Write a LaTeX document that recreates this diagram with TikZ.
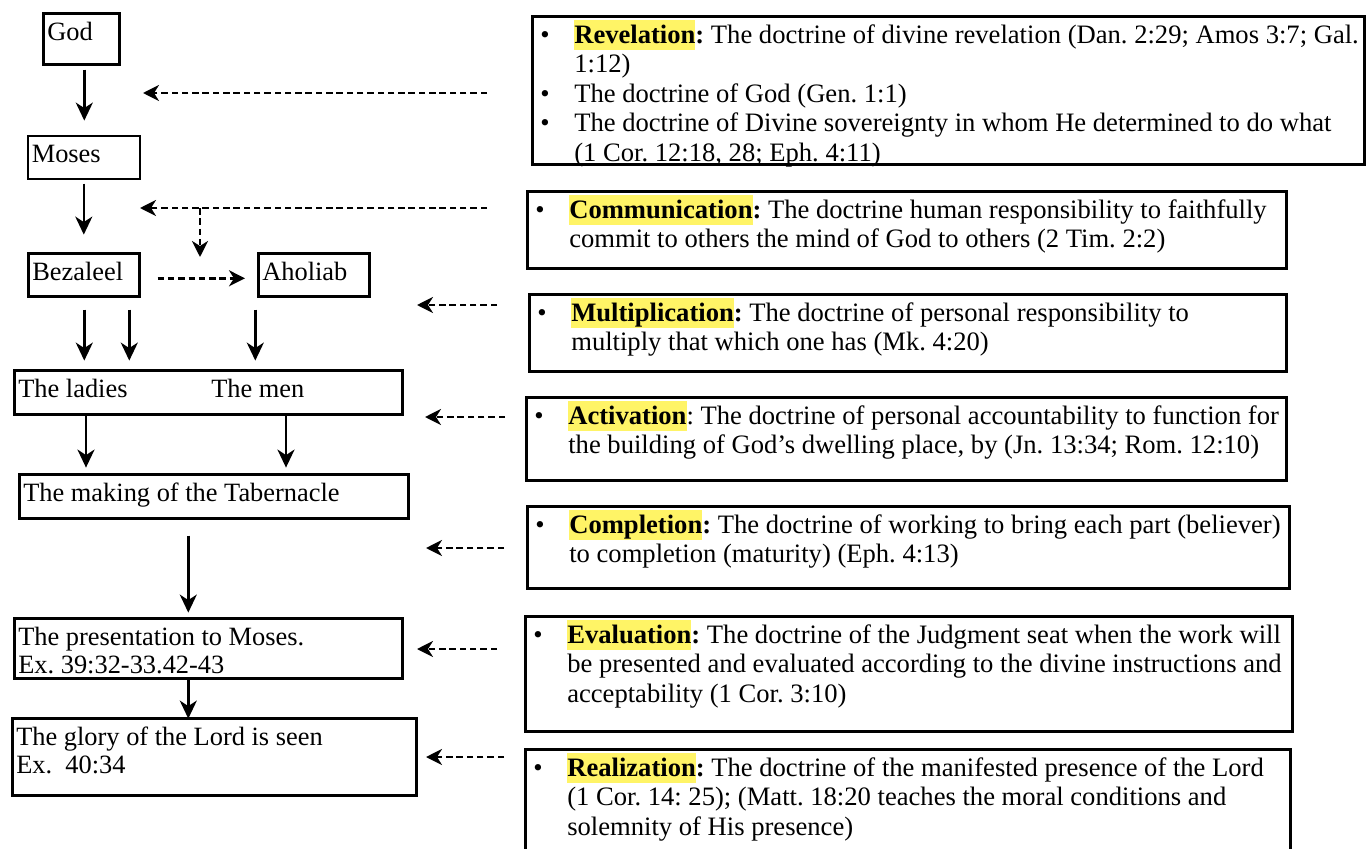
\documentclass[tikz,border=0pt]{standalone}
\usepackage{fontspec}
\setmainfont{Liberation Serif}
\usetikzlibrary{arrows.meta}
\definecolor{hly}{HTML}{FFF466}
\frenchspacing
\newcommand\hlw[1]{{\setlength{\fboxsep}{0pt}\colorbox{hly}{\rule[-7pt]{0pt}{30pt}\textbf{#1}}}}
\newcommand\bul{\makebox[34pt][l]{\textbullet}}
\newcommand\ind{\hspace*{34pt}}
\newcommand\boxtext[4]{\makebox[#1pt][l]{\parbox[t][#2pt][t]{1500pt}{\frenchspacing\leftskip=#3pt\parindent=0pt\rightskip=0pt plus 1fil\rule{0pt}{27pt}#4}}}
\tikzset{
  box/.style={draw, line width=2.6pt, inner sep=0pt, anchor=north west},
  lfont/.style={font=\fontsize{26.4}{28.5}\selectfont},
  rfont/.style={font=\fontsize{26.6}{29.5}\selectfont},
  arr/.style={line width=2.6pt, -{Stealth[length=18pt,width=17pt,inset=5.5pt]}},
  darr/.style={line width=2.6pt, dash pattern=on 6.5pt off 3.8pt, -{Stealth[length=16pt,width=16pt,inset=5pt]}}
}
\begin{document}
\begin{tikzpicture}[x=1pt,y=-1pt]
\useasboundingbox (0,0) rectangle (1372,848);
% left column
\node[box,lfont] (god) at (42,12) {\boxtext{76}{51}{4}{God}};
\node[box,lfont,line width=1.6pt] (moses) at (27,135) {\boxtext{112}{43}{4}{Moses}};
\node[box,lfont] (bez) at (27,252) {\boxtext{111}{43}{4}{Bezaleel}};
\node[box,lfont] (aho) at (257,252) {\boxtext{111}{43}{4}{Aholiab}};
\node[box,lfont] (ladies) at (13,369) {\boxtext{388}{44}{4}{\makebox[193pt][l]{The ladies}The men}};
\node[box,lfont] (tab) at (18,473) {\boxtext{389}{44}{4}{The making of the Tabernacle}};
\node[box,lfont] (pres) at (13,617) {\boxtext{388}{60}{4}{The presentation to Moses.\\Ex. 39:32-33.42-43}};
\node[box,lfont] (glory) at (11,717) {\boxtext{404}{77}{4}{The glory of the Lord is seen\\Ex.\ \ 40:34}};
% right column
\node[box,rfont] (rev) at (531,15) {\boxtext{832}{148}{8}{\bul\hlw{Revelation}\textbf{:} The doctrine of divine revelation (Dan. 2:29; Amos 3:7; Gal.\\
\ind 1:12)\\
\bul The doctrine of God (Gen. 1:1)\\
\bul The doctrine of Divine sovereignty in whom He determined to do what\\
\ind (1 Cor. 12:18, 28; Eph. 4:11)}};
\node[box,rfont] (comm) at (526,190) {\boxtext{759}{77}{8}{\bul\hlw{Communication}\textbf{:} The doctrine human responsibility to faithfully\\
\ind commit to others the mind of God to others (2 Tim. 2:2)}};
\node[box,rfont] (mult) at (528,293) {\boxtext{757}{77}{8}{\bul\hlw{Multiplication}\textbf{:} The doctrine of personal responsibility to\\
\ind multiply that which one has (Mk. 4:20)}};
\node[box,rfont] (act) at (525,396) {\boxtext{760}{83}{8}{\bul\hlw{Activation}: The doctrine of personal accountability to function for\\
\ind the building of God’s dwelling place, by (Jn. 13:34; Rom. 12:10)}};
\node[box,rfont] (comp) at (526,505) {\boxtext{762}{82}{8}{\bul\hlw{Completion}\textbf{:} The doctrine of working to bring each part (believer)\\
\ind to completion (maturity) (Eph. 4:13)}};
\node[box,rfont] (eval) at (524,615) {\boxtext{767}{115}{8}{\bul\hlw{Evaluation}\textbf{:} The doctrine of the Judgment seat when the work will\\
\ind be presented and evaluated according to the divine instructions and\\
\ind acceptability (1 Cor. 3:10)}};
\node[box,rfont] (real) at (524,748) {\boxtext{765}{122}{8}{\bul\hlw{Realization}\textbf{:} The doctrine of the manifested presence of the Lord\\
\ind (1 Cor. 14: 25); (Matt. 18:20 teaches the moral conditions and\\
\ind solemnity of His presence)}};
% solid arrows
\draw[arr] ([shift={(3,4)}]god.south) -- ++(0,51);
\draw[arr] ([shift={(0,4)}]moses.south) -- ++(0,51);
\draw[arr] ([shift={(0.5,12)}]bez.south) -- ++(0,51);
\draw[arr] ([shift={(45.5,12)}]bez.south) -- ++(0,51);
\draw[arr] ([shift={(-58.5,12)}]aho.south) -- ++(0,51);
\draw[arr] ([shift={(73,0)}]ladies.south west) -- ++(0,52);
\draw[arr] ([shift={(273,0)}]ladies.south west) -- ++(0,52);
\draw[arr] ([shift={(-25.5,16)}]tab.south) -- ++(0,77);
\draw[arr] ([shift={(-20,0)}]pres.south) -- ++(0,39);
% dashed arrows
\draw[darr] ([shift={(17,3.5)}]bez.east) -- ([shift={(-12,3.5)}]aho.west);
\coordinate (r1) at (487,93);  \coordinate (l1) at (143,93);
\coordinate (r2) at (487,208); \coordinate (l2) at (140,208);
\coordinate (b2) at (200,208); \coordinate (b2e) at (200,257);
\coordinate (r3) at (497,305); \coordinate (l3) at (417,305);
\coordinate (r4) at (505,417); \coordinate (l4) at (425,417);
\coordinate (r5) at (504,548); \coordinate (l5) at (426,548);
\coordinate (r6) at (497,649); \coordinate (l6) at (417,649);
\coordinate (r7) at (504,757); \coordinate (l7) at (426,757);
\draw[darr] (r1) -- (l1);
\draw[darr] (r2) -- (l2);
\draw[darr] (b2) -- (b2e);
\draw[darr] (r3) -- (l3);
\draw[darr] (r4) -- (l4);
\draw[darr] (r5) -- (l5);
\draw[darr] (r6) -- (l6);
\draw[darr] (r7) -- (l7);
\end{tikzpicture}
\end{document}
